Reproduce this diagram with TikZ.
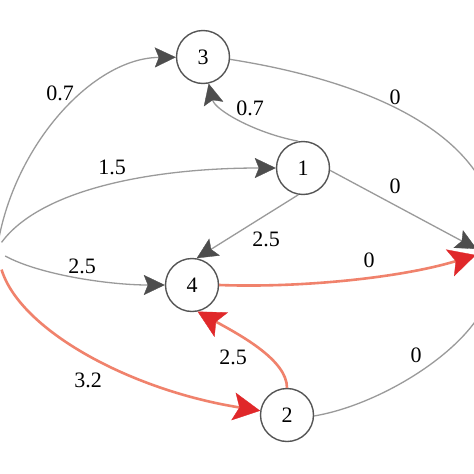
\documentclass[tikz,border=0pt]{standalone}
\usepackage{fontspec}
\setmainfont{Liberation Serif}
\usetikzlibrary{arrows.meta}
\definecolor{edgegray}{HTML}{9A9A9A}
\definecolor{tipgray}{HTML}{4D4D4D}
\definecolor{edgered}{HTML}{F0826C}
\definecolor{tipred}{HTML}{E0282A}
\definecolor{nodeline}{HTML}{555555}
\begin{document}
\begin{tikzpicture}[x=1pt,y=-1pt,
  vtx/.style={circle,draw=nodeline,line width=1.4pt,fill=white,minimum size=53pt,inner sep=0pt,font=\fontsize{22}{25}\selectfont},
  hid/.style={circle,draw=none,minimum size=54pt,inner sep=0pt},
  gedge/.style={draw=edgegray,line width=1.3pt,-{Stealth[length=21pt,width=20pt,inset=4pt,color=tipgray,line width=0.3pt]}},
  redge/.style={draw=edgered,line width=2.6pt,-{Stealth[length=27pt,width=28pt,inset=6pt,color=tipred,line width=0.3pt]}},
  lbl/.style={font=\fontsize{22}{25}\selectfont,inner sep=0pt}]
\useasboundingbox (0,0) rectangle (474,474);
\clip (0,0) rectangle (474,474);
\fill[white] (0,0) rectangle (474,474);
% nodes
\node[hid] (S) at (-22,256) {};
\node[hid] (T) at (503,256) {};
\node[vtx] (n3) at (203,57) {3};
\node[vtx] (n1) at (303,168) {1};
\node[vtx] (n4) at (192,285) {4};
\node[vtx] (n2) at (287,415) {2};
% edges
\draw[gedge] (S.40) .. controls (18,140) and (95,58) .. (n3);
\draw[gedge] (S.30) .. controls (40,190) and (150,168) .. (n1);
\draw[gedge] (S.0) .. controls (40,275) and (110,285) .. (n4);
\draw[redge] (S.-30) .. controls (20,330) and (130,390) .. (n2);
\draw[gedge] (n1.100) .. controls (255,133) and (215,110) .. (n3.-78);
\draw[gedge] (n1.-100) -- (n4.80);
\draw[gedge] (n1.-5) -- (T.165);
\draw[gedge] (n3.-5) .. controls (330,75) and (470,115) .. (T.100);
\draw[redge] (n4.0) .. controls (300,288) and (400,278) .. (T.178);
\draw[gedge] (n2.-2) .. controls (380,405) and (470,350) .. (T.-110);
\draw[redge] (n2.90) .. controls (287,360) and (240,335) .. (n4.-78);
% labels
\node[lbl] (l1) at (60,93) {0.7};
\node[lbl] (l2) at (112,167) {1.5};
\node[lbl] (l3) at (250,108) {0.7};
\node[lbl] (l4) at (395,97) {0};
\node[lbl] (l5) at (395,186) {0};
\node[lbl] (l6) at (266,239) {2.5};
\node[lbl] (l7) at (82,266) {2.5};
\node[lbl] (l8) at (369,260) {0};
\node[lbl] (l9) at (233,357) {2.5};
\node[lbl] (l10) at (88,380) {3.2};
\node[lbl] (l11) at (416,355) {0};
\end{tikzpicture}
\end{document}
